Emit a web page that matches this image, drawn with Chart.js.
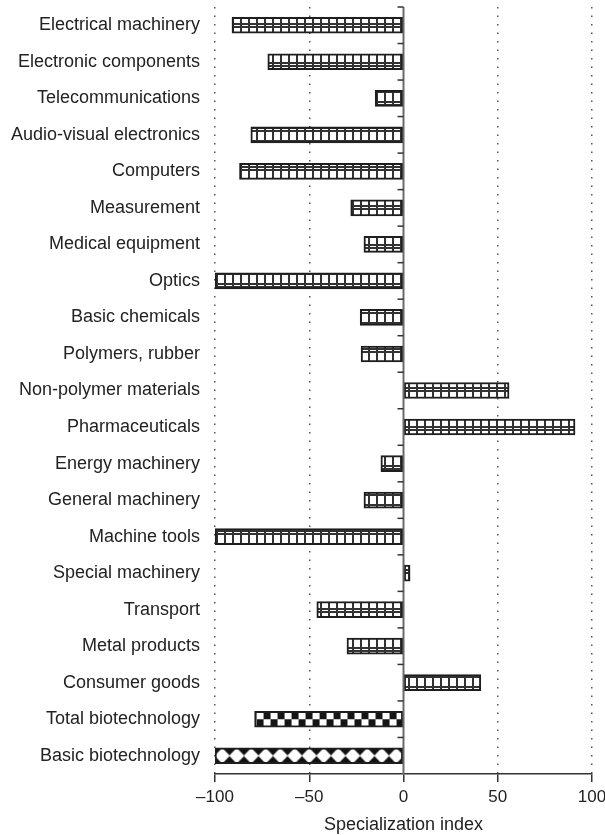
<!DOCTYPE html>
<html>
<head>
<meta charset="utf-8">
<script src="https://cdn.jsdelivr.net/npm/chart.js@4"></script>
<style>
html,body{margin:0;padding:0;background:#fff;}
#wrap{width:605px;height:835px;}
</style>
</head>
<body>
<div id="wrap"><canvas id="c" width="605" height="835"></canvas></div>
<script>
const categories = [
  "Electrical machinery","Electronic components","Telecommunications","Audio-visual electronics",
  "Computers","Measurement","Medical equipment","Optics","Basic chemicals","Polymers, rubber",
  "Non-polymer materials","Pharmaceuticals","Energy machinery","General machinery","Machine tools",
  "Special machinery","Transport","Metal products","Consumer goods","Total biotechnology","Basic biotechnology"
];
const specializationIndex = [
  -91, -72, -15, -81, -87, -28, -21, -100, -23, -22.5,
  56, 91, -12, -21, -100, 3.5, -46, -30, 41, -79, -100
];
const xTicks = [-100, -50, 0, 50, 100];
const patternKind = ["grid","grid","grid","grid","grid","grid","grid","grid","grid","grid",
  "grid","grid","grid","grid","grid","grid","grid","grid","grid","checker","diamond"];

function tile(w, h, draw){
  const c = document.createElement('canvas'); c.width = w; c.height = h;
  const g = c.getContext('2d'); draw(g); return c;
}
const gridTile = tile(8, 13, g => {
  g.fillStyle = '#fff'; g.fillRect(0,0,8,13);
  g.fillStyle = '#333';
  g.fillRect(0,0,8,2);
  g.fillRect(0,10,8,2);
  g.fillRect(0,0,2,13);
});
const checkerTile = tile(14, 14, g => {
  g.fillStyle = '#fff'; g.fillRect(0,0,14,14);
  g.fillStyle = '#151515';
  g.fillRect(0,0,7,7); g.fillRect(7,7,7,7);
});
const diamondTile = tile(29, 16, g => {
  g.fillStyle = '#111'; g.fillRect(0,0,29,16);
  g.fillStyle = '#fff'; g.strokeStyle = '#fff';
  g.lineWidth = 3; g.lineJoin = 'round';
  [7.25, 21.75].forEach(cx => {
    g.beginPath();
    g.moveTo(cx - 5.6, 8); g.lineTo(cx, 2.2); g.lineTo(cx + 5.6, 8); g.lineTo(cx, 13.8);
    g.closePath(); g.fill(); g.stroke();
  });
});

function barFill(ctx){
  const chart = ctx.chart;
  const ys = chart.scales.y, xs = chart.scales.x;
  const kind = patternKind[ctx.dataIndex];
  const t = kind === 'checker' ? checkerTile : kind === 'diamond' ? diamondTile : gridTile;
  const p = chart.ctx.createPattern(t, 'repeat');
  if (ys && xs && kind !== 'grid') {
    const yc = ys.getPixelForValue(ctx.dataIndex);
    const x0 = xs.getPixelForValue(0);
    p.setTransform(new DOMMatrix([1,0,0,1, x0, yc - t.height/2]));
  }
  return p;
}

const zeroLine = {
  id: 'zeroLine',
  afterDatasetsDraw(chart){
    const {ctx, chartArea, scales:{x, y}} = chart;
    const x0 = x.getPixelForValue(0);
    ctx.save();
    ctx.strokeStyle = '#6a6a6a';
    ctx.lineWidth = 2;
    ctx.beginPath();
    ctx.moveTo(x0, chartArea.top); ctx.lineTo(x0, chartArea.bottom);
    ctx.stroke();
    const step = y.getPixelForValue(1) - y.getPixelForValue(0);
    ctx.lineWidth = 1.5;
    ctx.strokeStyle = '#333';
    for (let i = 0; i < categories.length; i++) {
      const yy = y.getPixelForValue(i) - step/2;
      ctx.beginPath(); ctx.moveTo(x0 - 6, yy); ctx.lineTo(x0, yy); ctx.stroke();
    }
    ctx.restore();
  }
};

new Chart(document.getElementById('c'), {
  type: 'bar',
  data: {
    labels: categories,
    datasets: [{
      data: specializationIndex,
      backgroundColor: barFill,
      borderColor: '#1e1e1e',
      borderWidth: 2,
      borderSkipped: false,
      barThickness: 16
    }]
  },
  options: {
    indexAxis: 'y',
    responsive: false,
    animation: false,
    layout: { padding: { top: 7, right: 13, bottom: -1, left: 0 } },
    plugins: { legend: { display: false }, tooltip: { enabled: false } },
    scales: {
      x: {
        min: -100, max: 100,
        afterBuildTicks(scale){ scale.ticks = xTicks.map(v => ({value: v})); },
        afterFit(scale){ scale.paddingLeft = 0; scale.paddingRight = 0; },
        ticks: {
          color: '#222',
          font: { family: 'Liberation Sans, Arial, sans-serif', size: 17 },
          padding: 5,
          maxRotation: 0,
          callback: v => (v < 0 ? '\u2013' + Math.abs(v) : String(v))
        },
        grid: {
          color: c => (c.tick && c.tick.value === 0 ? 'rgba(0,0,0,0)' : '#555'),
          lineWidth: 1.5,
          tickColor: '#333',
          tickLength: 8,
          tickWidth: 1.5
        },
        border: { display: true, color: '#333', width: 1.5, dash: [1.5, 7] },
        title: {
          display: true, text: 'Specialization index', color: '#222',
          font: { family: 'Liberation Sans, Arial, sans-serif', size: 18 },
          padding: { top: 2, bottom: 0 }
        }
      },
      y: {
        grid: { display: false },
        border: { display: false },
        ticks: {
          color: '#222',
          font: { family: 'Liberation Sans, Arial, sans-serif', size: 18 },
          padding: 7,
          autoSkip: false
        },
        afterFit(scale){ scale.width = 215; scale.paddingTop = 0; scale.paddingBottom = 0; }
      }
    }
  },
  plugins: [zeroLine]
});
</script>
</body>
</html>
